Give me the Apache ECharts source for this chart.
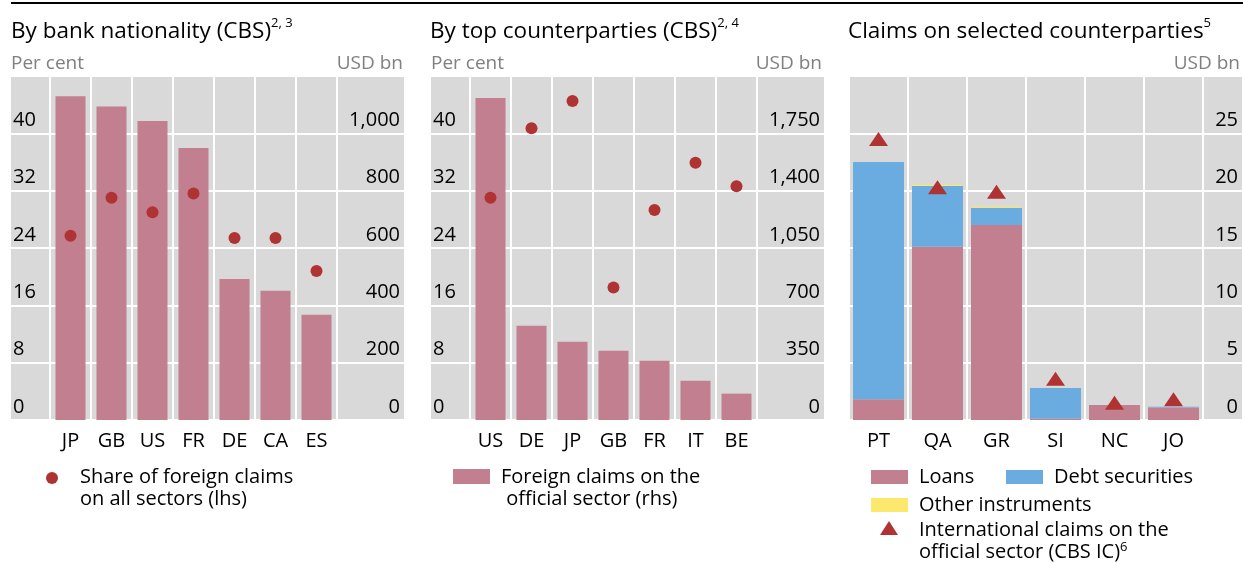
<!DOCTYPE html>
<html>
<head>
<meta charset="utf-8">
<script src="https://cdn.jsdelivr.net/npm/echarts@6/dist/echarts.min.js"></script>
<style>
html, body { margin: 0; padding: 0; background: #fff; }
#chart { width: 1243px; height: 563px; }
</style>
</head>
<body>
<div id="chart"></div>
<script>
// panel 1: by bank nationality
const natCats = ['JP', 'GB', 'US', 'FR', 'DE', 'CA', 'ES'];
const natClaims = [1129, 1094, 1043, 949, 492, 451, 367];
const natShare = [25.7, 31.0, 29.0, 31.6, 25.4, 25.4, 20.8];

// panel 2: by top counterparties
const cptyCats = ['US', 'DE', 'JP', 'GB', 'FR', 'IT', 'BE'];
const cptyClaims = [1965, 575, 478, 423, 362, 240, 161];
const cptyShare = [31.0, 40.7, 44.5, 18.5, 29.3, 35.9, 32.6];

// panel 3: selected counterparties
const selCats = ['PT', 'QA', 'GR', 'SI', 'NC', 'JO'];
const selLoans = [1.8, 15.1, 17.0, 0.1, 1.3, 1.1];
const selDebt = [20.7, 5.3, 1.5, 2.7, 0, 0.06];
const selOther = [0, 0.12, 0.12, 0, 0, 0];
const selIntl = [24.5, 20.3, 19.9, 3.6, 1.5, 1.8];

// axis scales
const shareAxis = { max: 48, interval: 8 };
const natAxis = { max: 1200, interval: 200 };
const cptyAxis = { max: 2100, interval: 350 };
const selAxis = { max: 30, interval: 5 };

const FONT = "'Open Sans', sans-serif";
const GREY = '#d9d9d9';
const PINK = '#c27f8f';
const RED = '#b03333';
const BLUE = '#6aacdf';
const YELLOW = '#fde86e';
const TOP = 76;
const BOTTOM = 143;

const grid = [];
const xAxis = [];
const yAxis = [];
const series = [];

const tickLabel = {
  inside: true,
  fontSize: 20,
  fontFamily: FONT,
  color: '#000',
  verticalAlign: 'bottom',
  padding: [0, 0, 3, 0],
  showMaxLabel: false
};

function valueAxis(g, scale, pos, withSplit) {
  return {
    gridIndex: g,
    type: 'value',
    position: pos,
    min: 0,
    max: scale.max,
    interval: scale.interval,
    axisLine: { show: false },
    axisTick: { show: false },
    axisLabel: Object.assign({}, tickLabel, {
      align: pos,
      margin: pos === 'left' ? 2 : 4,
      formatter: v => v.toLocaleString('en-US')
    }),
    splitLine: { show: withSplit, lineStyle: { color: '#fff', width: 2 } }
  };
}

function hiddenAxis(g, scale) {
  return { gridIndex: g, type: 'value', min: 0, max: scale.max, interval: scale.interval, show: false };
}

function addPanel(bgLeft, bgWidth, dataLeft, dataWidth, cats, leftScale, rightScale) {
  const g = grid.length;
  grid.push({ left: bgLeft, width: bgWidth, top: TOP, bottom: BOTTOM, show: true, backgroundColor: GREY, borderWidth: 0 });
  grid.push({ left: dataLeft, width: dataWidth, top: TOP, bottom: BOTTOM });
  xAxis.push({ gridIndex: g, type: 'value', show: false });
  xAxis.push({
    gridIndex: g + 1,
    type: 'category',
    data: cats,
    axisLine: { show: false },
    axisTick: { show: false },
    axisLabel: { fontSize: 20, fontFamily: FONT, color: '#000', margin: 11 },
    splitLine: { show: true, lineStyle: { color: '#fff', width: 2 } }
  });
  if (leftScale) yAxis.push(valueAxis(g, leftScale, 'left', true));
  yAxis.push(valueAxis(g, rightScale, 'right', !leftScale));
  const y0 = yAxis.length;
  if (leftScale) yAxis.push(hiddenAxis(g + 1, leftScale));
  yAxis.push(hiddenAxis(g + 1, rightScale));
  return { x: xAxis.length - 1, yLeft: leftScale ? y0 : null, yRight: leftScale ? y0 + 1 : y0 };
}

const p1 = addPanel(11, 393, 50, 287, natCats, shareAxis, natAxis);
series.push({ type: 'bar', xAxisIndex: p1.x, yAxisIndex: p1.yRight, data: natClaims, barWidth: 30, itemStyle: { color: PINK } });
series.push({ type: 'scatter', xAxisIndex: p1.x, yAxisIndex: p1.yLeft, data: natShare, symbolSize: 12, itemStyle: { color: RED, opacity: 1 } });

const p2 = addPanel(431, 393, 470, 287, cptyCats, shareAxis, cptyAxis);
series.push({ type: 'bar', xAxisIndex: p2.x, yAxisIndex: p2.yRight, data: cptyClaims, barWidth: 30, itemStyle: { color: PINK } });
series.push({ type: 'scatter', xAxisIndex: p2.x, yAxisIndex: p2.yLeft, data: cptyShare, symbolSize: 12, itemStyle: { color: RED, opacity: 1 } });

const p3 = addPanel(849, 393, 849, 354, selCats, null, selAxis);
series.push({ type: 'bar', name: 'Loans', stack: 'sel', xAxisIndex: p3.x, yAxisIndex: p3.yRight, data: selLoans, barWidth: 51, itemStyle: { color: PINK } });
series.push({ type: 'bar', name: 'Debt securities', stack: 'sel', xAxisIndex: p3.x, yAxisIndex: p3.yRight, data: selDebt, barWidth: 51, itemStyle: { color: BLUE } });
series.push({ type: 'bar', name: 'Other instruments', stack: 'sel', xAxisIndex: p3.x, yAxisIndex: p3.yRight, data: selOther, barWidth: 51, itemStyle: { color: YELLOW } });
series.push({ type: 'scatter', name: 'International claims', xAxisIndex: p3.x, yAxisIndex: p3.yRight, data: selIntl, symbol: 'triangle', symbolSize: [19, 14], itemStyle: { color: RED, opacity: 1 } });

function panelTitle(left, main, sup) {
  return {
    left: left,
    top: 17,
    padding: 0,
    text: '{a|' + main + '}{s|' + sup + '}',
    textStyle: {
      rich: {
        a: { fontSize: 22.5, fontFamily: FONT, fontWeight: 'normal', color: '#000', lineHeight: 30 },
        s: { fontSize: 13, fontFamily: FONT, fontWeight: 'normal', color: '#000', verticalAlign: 'top', lineHeight: 13 }
      }
    }
  };
}

const legendText = (x, y, text) => ({
  type: 'text', left: x, top: y,
  style: {
    text: text, fontSize: 20, fontFamily: FONT, fill: '#000', lineHeight: 22,
    rich: { s: { fontSize: 13, fontFamily: FONT, fill: '#000', verticalAlign: 'top', lineHeight: 13 } }
  }
});

const unitText = (x, align, text) => ({
  type: 'text', x: x, y: 64,
  style: { text: text, fontSize: 19, fontFamily: FONT, fill: '#808080', align: align, verticalAlign: 'middle' }
});

const chart = echarts.init(document.getElementById('chart'));
chart.setOption({
  animation: false,
  backgroundColor: '#fff',
  title: [
    panelTitle(11, 'By bank nationality (CBS)', '2, 3'),
    panelTitle(430, 'By top counterparties (CBS)', '2, 4'),
    panelTitle(848, 'Claims on selected counterparties', '5')
  ],
  grid: grid,
  xAxis: xAxis,
  yAxis: yAxis,
  series: series,
  graphic: [
    { type: 'rect', shape: { x: 11, y: 2, width: 1232, height: 2 }, style: { fill: '#000' } },
    unitText(11, 'left', 'Per cent'),
    unitText(403, 'right', 'USD bn'),
    unitText(431, 'left', 'Per cent'),
    unitText(822, 'right', 'USD bn'),
    unitText(1240, 'right', 'USD bn'),
    // panel 1 legend
    { type: 'circle', shape: { cx: 52, cy: 478, r: 6 }, style: { fill: RED } },
    legendText(80, 466, 'Share of foreign claims\non all sectors (lhs)'),
    // panel 2 legend
    { type: 'rect', shape: { x: 453, y: 469, width: 37, height: 15 }, style: { fill: PINK } },
    legendText(501, 466, 'Foreign claims on the\n official sector (rhs)'),
    // panel 3 legend
    { type: 'rect', shape: { x: 871, y: 470, width: 37, height: 14 }, style: { fill: PINK } },
    legendText(919, 466, 'Loans'),
    { type: 'rect', shape: { x: 1006, y: 470, width: 37, height: 14 }, style: { fill: BLUE } },
    legendText(1054, 466, 'Debt securities'),
    { type: 'rect', shape: { x: 871, y: 498, width: 37, height: 14 }, style: { fill: YELLOW } },
    legendText(919, 494, 'Other instruments'),
    { type: 'polygon', shape: { points: [[880, 535], [898, 535], [889, 521]] }, style: { fill: RED } },
    legendText(919, 519, 'International claims on the\nofficial sector (CBS IC){s|6}')
  ]
});
</script>
</body>
</html>
